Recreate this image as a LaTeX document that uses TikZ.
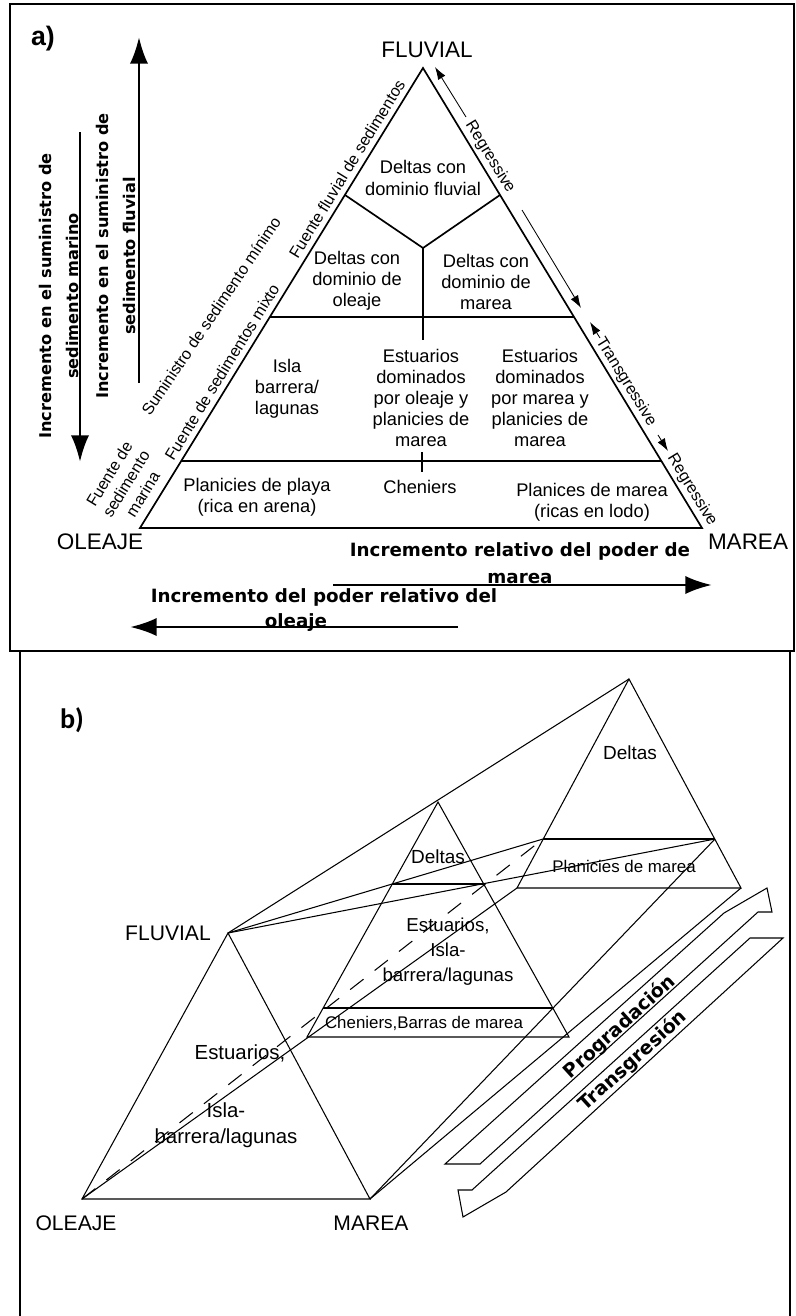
\documentclass[tikz,border=0pt]{standalone}
\usepackage{fontspec}
\setmainfont{Liberation Sans}
\newfontfamily\heavyfont{DejaVu Sans}
\newfontfamily\tagfont{Carlito}
\usepackage{tikz}
\usetikzlibrary{arrows.meta}

\begin{document}
\begin{tikzpicture}[
    x=0.025cm, y=-0.025cm,
    frame/.style={line width=1.2pt},
    edge/.style={line width=1.2pt},
    pedge/.style={line width=0.75pt},
    zone/.style={font=\fontsize{13}{15}\selectfont, align=center, inner sep=0pt},
    bzone/.style={font=\fontsize{#1}{18}\selectfont, align=center, inner sep=0pt},
    corner/.style={font=\fontsize{#1}{18}\selectfont, inner sep=0pt},
    flank/.style={font=\fontsize{11.5}{14}\selectfont, align=center, inner sep=0pt},
    heavy/.style={font=\heavyfont\bfseries\fontsize{#1}{19}\selectfont, align=center, inner sep=0pt},
    trend/.style={line width=2pt, -{Latex[length=19pt,width=13pt]}},
    tick/.style={line width=0.6pt, -{Latex[length=9pt,width=6pt]}},
]
\useasboundingbox (0,0) rectangle (796,1316);

% frames
\draw[frame] (10,4) rectangle (794,651);
\draw[frame] (20,1316) -- (20,651);
\draw[frame] (790,651) -- (790,1316);

%%% a) ternary diagram
\node[font=\bfseries\fontsize{19}{21}\selectfont, inner sep=0pt] (tagA) at (43,39) {a)};

\coordinate (fluA) at (423,68);
\coordinate (oleA) at (140,528);
\coordinate (marA) at (702,528);
\coordinate (junc) at (423,248);
\coordinate (fanL) at (345,195);
\coordinate (fanR) at (500,195);
\coordinate (stem) at (423,340);
\coordinate (upL) at (270,317);
\coordinate (upR) at (574,317);
\coordinate (loL) at (181,461);
\coordinate (loR) at (661,461);
\coordinate (tkT) at (422,452);
\coordinate (tkB) at (422,472);

\draw[edge, line join=miter] (fluA) -- (oleA) -- (marA) -- cycle;
\draw[edge] (fanL) -- (junc) -- (fanR);
\draw[edge] (junc) -- (stem);
\draw[edge] (upL) -- (upR);
\draw[edge] (loL) -- (loR);
\draw[line width=0.8pt] (tkT) -- (tkB);

\node[corner=16] (nFluA) at (427,50) {FLUVIAL};
\node[corner=16] (nOleA) at (100,542) {OLEAJE};
\node[corner=16] (nMarA) at (748,542) {MAREA};

\node[zone] (dFlu) at (423,178) {Deltas con\\dominio fluvial};
\node[zone] (dOle) at (357,281) {Deltas con\\dominio de\\oleaje};
\node[zone] (dMar) at (486,282) {Deltas con\\dominio de\\marea};
\node[zone] (isla) at (287,389) {Isla\\barrera/\\lagunas};
\node[zone] (estO) at (421,398) {Estuarios\\dominados\\por oleaje y\\planicies de\\marea};
\node[zone] (estM) at (540,398) {Estuarios\\dominados\\por marea y\\planicies de\\marea};
\node[zone] (playa) at (257,497) {Planicies de playa\\(rica en arena)};
\node[zone] (chen) at (420,487) {Cheniers};
\node[zone] (lodo) at (592,502) {Planices de marea\\(ricas en lodo)};

% sources along the left side
\node[flank, rotate=58.4] (fFlu) at (347,169) {Fuente fluvial de sedimentos};
\node[flank, rotate=56] (fMin) at (211,316) {Suministro de sedimento mínimo};
\node[flank, rotate=58.4] (fMix) at (222,372) {Fuente de sedimentos mixto};
\node[flank, rotate=58.4] (fMar) at (126,484) {Fuente de\\sedimento\\marina};

% trends along the right side
\coordinate (rg1a) at (435,67);
\coordinate (rg1b) at (466,117);
\coordinate (rg2a) at (522,210);
\coordinate (rg2b) at (581,308);
\coordinate (tr1a) at (600,338);
\coordinate (tr1b) at (590,322);
\coordinate (tr2a) at (658,435);
\coordinate (tr2b) at (668,451);
\draw[tick] (rg1b) -- (rg1a);
\draw[tick] (rg2a) -- (rg2b);
\draw[tick] (tr1a) -- (tr1b);
\draw[tick] (tr2a) -- (tr2b);
\node[flank, rotate=-58.4] (rgUp) at (490,157) {Regressive};
\node[flank, rotate=-58.4] (trMid) at (626,382) {Transgressive};
\node[flank, rotate=-58.4] (rgLo) at (692,490) {Regressive};

% supply and power axes
\coordinate (upS) at (139,383);
\coordinate (upE) at (139,37);
\coordinate (dnS) at (80,132);
\coordinate (dnE) at (80,462);
\coordinate (mrS) at (333,585);
\coordinate (mrE) at (712,585);
\coordinate (olS) at (458,627);
\coordinate (olE) at (130,627);
\draw[trend] (upS) -- (upE);
\draw[trend] (dnS) -- (dnE);
\draw[trend] (mrS) -- (mrE);
\draw[trend] (olS) -- (olE);
\node[heavy=11.5, rotate=90] (sMar) at (59,296) {Incremento en el suministro de\\sedimento marino};
\node[heavy=11.5, rotate=90] (sFlu) at (116,256) {Incremento en el suministro de\\sedimento fluvial};
\node[heavy=13] (pMar) at (520,563) {Incremento relativo del poder de\\marea};
\node[heavy=13] (pOle) at (324,597) {Incremento del poder relativo del};
\node[heavy=13] (pOle2) at (296,623) {oleaje};

%%% b) prism
\node[font=\tagfont\bfseries\fontsize{20}{22}\selectfont, inner sep=0pt] (tagB) at (72,720) {b)};

\coordinate (fluB) at (228,933);
\coordinate (oleB) at (82,1199);
\coordinate (marB) at (370,1199);
\coordinate (midT) at (438,802);
\coordinate (midL) at (307,1037);
\coordinate (midR) at (569,1037);
\coordinate (midDL) at (392,884);
\coordinate (midDR) at (484,884);
\coordinate (midCL) at (323,1008);
\coordinate (midCR) at (553,1008);
\coordinate (bakT) at (629,679);
\coordinate (bakL) at (517,888);
\coordinate (bakR) at (741,888);
\coordinate (bakDL) at (543,839);
\coordinate (bakDR) at (715,839);

\draw[pedge] (fluB) -- (oleB) -- (marB) -- cycle;
\draw[pedge] (midT) -- (midL) -- (midR) -- cycle;
\draw[pedge] (midDL) -- (midDR);
\draw[pedge] (midCL) -- (midCR);
\draw[pedge] (bakT) -- (bakL) -- (bakR) -- cycle;
\draw[pedge] (bakDL) -- (bakDR);
\draw[pedge] (fluB) -- (bakT);
\draw[pedge] (fluB) -- (bakDL);
\draw[pedge] (fluB) -- (bakDR);
\draw[pedge] (oleB) -- (bakL);
\draw[pedge, dash pattern=on 12pt off 10pt] (oleB) -- (bakDL);
\draw[pedge] (marB) -- (bakR);
\draw[pedge] (marB) -- (bakDR);

\node[corner=15] (nFluB) at (168,933) {FLUVIAL};
\node[corner=15] (nOleB) at (76,1223) {OLEAJE};
\node[corner=15] (nMarB) at (371,1223) {MAREA};

\node[bzone=13.5] (bDel) at (630,753) {Deltas};
\node[bzone=12] (bPla) at (624,866) {Planicies de marea};
\node[bzone=13.5] (mDel) at (438,857) {Deltas};
\node[font=\fontsize{13.3}{17.7}\selectfont, align=center, inner sep=0pt] (mEst) at (448,952) {Estuarios,\\Isla-\\barrera/lagunas};
\node[bzone=12] (mChe) at (424,1023) {Cheniers,Barras de marea};
\node[bzone=14.5] (fEst) at (240,1053) {Estuarios,};
\node[font=\fontsize{14.5}{18.4}\selectfont, align=center, inner sep=0pt] (fIsl) at (226,1125) {Isla-\\barrera/lagunas};

% hollow trend arrows
\draw[pedge, line join=miter] (445,1164) -- (480,1164) -- (758,912) -- (772,912) -- (767,888) -- (724,913) -- cycle;
\draw[pedge, line join=miter] (750,938) -- (783,938) -- (506,1192) -- (463,1217) -- (458,1190) -- (472,1190) -- cycle;
\node[heavy=13.5, rotate=42.2] (tProg) at (620,1027) {Progradación};
\node[heavy=13.5, rotate=42.2] (tTrans) at (633,1061) {Transgresión};
\end{tikzpicture}
\end{document}
